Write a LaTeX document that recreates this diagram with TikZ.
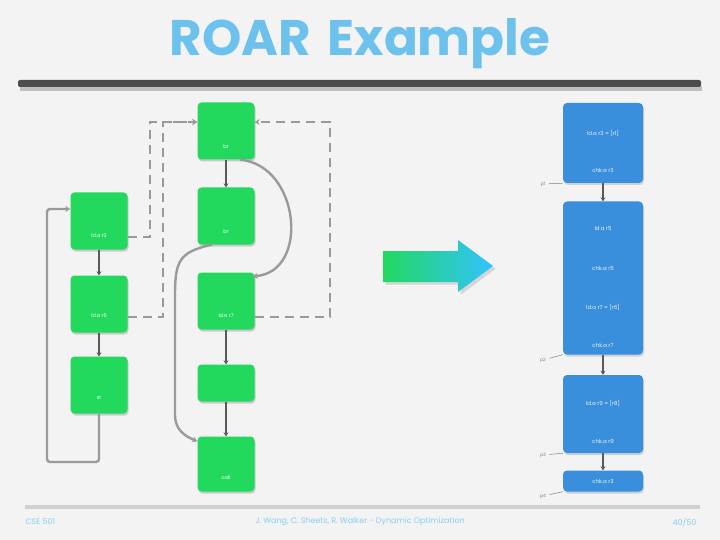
\documentclass[tikz,border=0pt]{standalone}
\usepackage{fontspec}
\setmainfont{Poppins}
\usetikzlibrary{arrows.meta, shadows}

\definecolor{titleblue}{HTML}{6CC2EC}
\definecolor{ngreen}{HTML}{22D95E}
\definecolor{nblue}{HTML}{3A8FDD}
\definecolor{edgegray}{HTML}{9A9A9A}
\definecolor{bggray}{HTML}{F3F3F3}

\tikzset{
  gbox/.style={fill=ngreen, rounded corners=4pt, minimum width=57pt, minimum height=57pt,
    drop shadow={opacity=0.35, shadow xshift=1pt, shadow yshift=-2pt}},
  bbox/.style={fill=nblue, rounded corners=4pt, minimum width=80pt,
    drop shadow={opacity=0.3, shadow xshift=1pt, shadow yshift=-2pt}},
  gtxt/.style={text=white, font=\fontsize{5}{6}\selectfont},
  btxt/.style={text=white!90!nblue, font=\fontsize{5.5}{6}\selectfont},
  ptxt/.style={text=gray, font=\fontsize{4.5}{5}\selectfont},
  seq/.style={draw=black!65, line width=1.5pt, -{Stealth[length=4pt,width=5pt]}},
  back/.style={draw=edgegray, line width=2.4pt, rounded corners=3pt, -{Stealth[length=5pt,width=6pt]}},
  spec/.style={draw=edgegray, line width=2.4pt, dash pattern=on 9pt off 6pt, -{Stealth[length=5pt,width=6pt]}}
}

\begin{document}
\begin{tikzpicture}[x=1pt, y=-1pt]
  \useasboundingbox (0,0) rectangle (720,540);
  \fill[bggray] (0,0) rectangle (720,540);

  % title and rules
  \node[text=titleblue, font=\fontsize{50}{56}\selectfont\bfseries] (title) at (360,44) {ROAR\,\,Example};
  \fill[black!25] (20,86) rectangle (702,91);
  \fill[black!70, rounded corners=2pt] (18,80) rectangle (701,87);
  \fill[black!18] (25,505) rectangle (700,509);
  \node[text=titleblue!80, font=\fontsize{8}{9}\selectfont, anchor=west] (fleft) at (22,522) {CSE 501};
  \node[text=titleblue!80, font=\fontsize{8}{9}\selectfont] (fmid) at (360,522) {J. Wang, C. Sheets, R. Walker - Dynamic Optimization};
  \node[text=titleblue!80, font=\fontsize{8}{9}\selectfont, anchor=east] (fright) at (700,522) {40/50};

  % original code: left block
  \node[gbox] (l1) at (99,221) {};
  \node[gbox] (l2) at (99,304) {};
  \node[gbox] (l3) at (99,385) {};
  \node[gtxt] (l1t) at (99,236) {ld.a r3};
  \node[gtxt] (l2t) at (99,316) {ld.a r5};
  \node[gtxt] (l3t) at (99,398) {st};

  % original code: right block
  \node[gbox] (m1) at (226,131) {};
  \node[gbox] (m2) at (226,216) {};
  \node[gbox] (m3) at (226,301) {};
  \node[gbox, minimum height=37pt] (m4) at (226,383) {};
  \node[gbox, minimum height=55pt] (m5) at (226,464) {};
  \node[gtxt] (m1t) at (226,147) {br};
  \node[gtxt] (m2t) at (226,232) {br};
  \node[gtxt] (m3t) at (226,316) {ld.a r7};
  \node[gtxt] (m5t) at (226,478) {call};

  % fall-through edges
  \draw[seq] (l1) -- (l2);
  \draw[seq] (l2) -- (l3);
  \draw[seq] (m1) -- (m2);
  \draw[seq] (m3) -- (m4);
  \draw[seq] (m4) -- (m5);

  % loop back edge
  \coordinate (lb) at (47,462);
  \draw[back] (l3.south) |- (lb) |- ([yshift=12pt]l1.west);

  % taken branches
  \draw[back] ([xshift=14pt]m1.south) .. controls (300,165) and (310,272) .. ([xshift=-2pt,yshift=-4pt]m3.north east);
  \draw[back] ([xshift=-14pt]m2.south) .. controls (178,252) and (175,262) .. (175,300)
    -- (175,412) .. controls (175,430) and (185,436) .. ([yshift=-5pt]m5.north west);

  % speculative edges
  \coordinate (d1) at (150,122);
  \coordinate (d2) at (163,122);
  \coordinate (d3) at (330,122);
  \draw[spec] ([yshift=-16pt]l1.east) -| (d1) -- ([yshift=9pt]m1.west);
  \draw[spec] ([yshift=-13pt]l2.east) -| (d2) -- ([yshift=9pt]m1.west);
  \draw[spec] ([yshift=-16pt]m3.east) -| (d3) -- ([yshift=9pt]m1.east);

  % big arrow
  \shade[left color=ngreen, right color=cyan!70!blue!80, drop shadow={opacity=0.25}]
    (383,251) -- (458,251) -- (458,240) -- (493,266) -- (458,292) -- (458,282) -- (383,282) -- cycle;

  % optimized code
  \node[bbox, minimum height=80pt] (b1) at (603,143) {};
  \node[bbox, minimum height=153pt] (b2) at (603,278) {};
  \node[bbox, minimum height=78pt] (b3) at (603,414) {};
  \node[bbox, minimum height=21pt] (b4) at (603,481) {};
  \node[btxt] (b1a) at (603,133) {ld.a r3 = [r1]};
  \node[btxt] (b1b) at (603,170) {chk.a r3};
  \node[btxt] (b2a) at (603,228) {ld.a r5};
  \node[btxt] (b2b) at (603,268) {chk.a r5};
  \node[btxt] (b2c) at (603,307) {ld.a r7 = [r6]};
  \node[btxt] (b2d) at (603,345) {chk.a r7};
  \node[btxt] (b3a) at (603,403) {ld.a r9 = [r8]};
  \node[btxt] (b3b) at (603,441) {chk.a r9};
  \node[btxt] (b4a) at (603,481) {chk.a r3};
  \draw[seq] (b1) -- (b2);
  \draw[seq] (b2) -- (b3);
  \draw[seq] (b3) -- (b4);

  % exit labels
  \node[ptxt] (p1) at (543,184) {p1};
  \node[ptxt] (p2) at (543,360) {p2};
  \node[ptxt] (p3) at (543,455) {p3};
  \node[ptxt] (p4) at (543,496) {p4};
  \draw[gray, line width=0.5pt] (p1) -- (b1.south west);
  \draw[gray, line width=0.5pt] (p2) -- (b2.south west);
  \draw[gray, line width=0.5pt] (p3) -- (b3.south west);
  \draw[gray, line width=0.5pt] (p4) -- (b4.south west);
\end{tikzpicture}
\end{document}
